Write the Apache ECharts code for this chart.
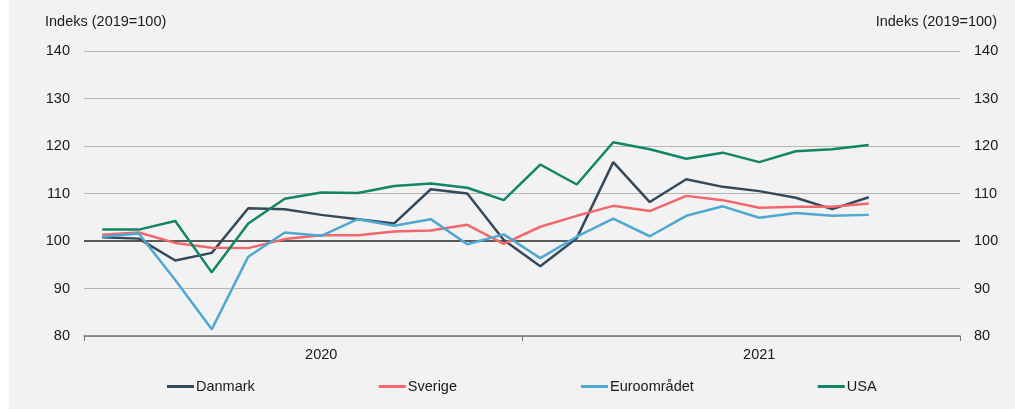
<!DOCTYPE html>
<html lang="da">
<head>
    <meta charset="utf-8"/>
    <title>Indeks (2019=100)</title>
    <script src="https://cdn.jsdelivr.net/npm/echarts@6/dist/echarts.min.js"></script>
    <style type="text/css">
        html, body { margin: 0; height: 100%; background: #ffffff; }
        #main { position: absolute; left: 9px; top: 0; width: 1006px; height: 409px; background: #f2f2f2; }
    </style>
</head>
<body>
<div id="main"></div>
<script>
    // months jan 2020 - dec 2021
    var months = [];
    for (var y = 2020; y <= 2021; y++) {
        for (var m = 1; m <= 12; m++) {
            months.push(y + '-' + (m < 10 ? '0' + m : m));
        }
    }

    var danmark = [100.8, 100.5, 95.9, 97.5, 106.9, 106.7, 105.5, 104.6, 103.7, 110.9, 110.0, 100.2,
                   94.7, 100.6, 116.6, 108.2, 113.0, 111.4, 110.5, 109.1, 106.7, 109.2];
    var sverige = [101.3, 101.8, 99.6, 98.6, 98.5, 100.4, 101.2, 101.2, 102.0, 102.2, 103.4, 99.4,
                   103.0, 105.3, 107.4, 106.3, 109.5, 108.6, 107.0, 107.2, 107.2, 107.9];
    var euro = [100.9, 101.6, 91.8, 81.4, 96.7, 101.8, 101.1, 104.6, 103.2, 104.6, 99.3, 101.4,
                96.4, 100.9, 104.7, 101.0, 105.3, 107.3, 104.9, 105.9, 105.3, 105.5];
    var usa = [102.4, 102.4, 104.2, 93.4, 103.7, 108.9, 110.2, 110.1, 111.6, 112.1, 111.2, 108.6,
               116.1, 111.9, 120.8, 119.3, 117.3, 118.6, 116.6, 118.9, 119.3, 120.2];

    var names = ['Danmark', 'Sverige', 'Euroområdet', 'USA'];
    var colors = ['#34495a', '#f2676c', '#4fa8d1', '#118566'];
    var baseline = 100;

    var font = 'Arial, "Liberation Sans", sans-serif';
    var fs = 14.5;

    var yAxisBase = {
        type: 'value',
        min: 80,
        max: 140,
        interval: 10,
        axisLine: { show: false },
        axisTick: { show: false },
        axisLabel: { color: '#1a1a1a', fontSize: fs, fontFamily: font, margin: 14 },
        splitLine: { lineStyle: { color: '#b5b5b5', width: 1 } }
    };

    function line(name, data, color, mark) {
        var s = {
            name: name,
            type: 'line',
            data: data,
            symbol: 'none',
            lineStyle: { color: color, width: 2.5 },
            itemStyle: { color: color },
            z: 3
        };
        if (mark) {
            s.markLine = {
                silent: true,
                symbol: 'none',
                label: { show: false },
                lineStyle: { color: '#595959', width: 2, type: 'solid' },
                data: [{ yAxis: baseline }],
                z: 1
            };
        }
        return s;
    }

    var myChart = echarts.init(document.getElementById('main'));

    var option = {
        animation: false,
        textStyle: { fontFamily: font },
        grid: { left: 75, right: 55, top: 51, bottom: 73 },
        graphic: [
            { type: 'text', left: 36, top: 14, style: { text: 'Indeks (2019=100)', fontSize: fs, fontFamily: font, fill: '#1a1a1a' } },
            { type: 'text', right: 18, top: 14, style: { text: 'Indeks (2019=100)', fontSize: fs, fontFamily: font, fill: '#1a1a1a' } }
        ],
        legend: {
            data: names,
            icon: 'rect',
            left: 153,
            top: 374,
            itemGap: 124,
            itemWidth: 27,
            itemHeight: 3,
            textStyle: { color: '#1a1a1a', fontSize: fs, fontFamily: font, padding: [0, 0, 0, -3] }
        },
        xAxis: {
            type: 'category',
            data: months,
            boundaryGap: true,
            axisLine: { lineStyle: { color: '#767676', width: 1.5 } },
            axisTick: { show: true, interval: 11, length: 5, lineStyle: { color: '#767676' } },
            axisLabel: {
                color: '#1a1a1a',
                fontSize: fs,
                fontFamily: font,
                margin: 11,
                interval: function (i) { return i === 6 || i === 18; },
                formatter: function (v) { return v.slice(0, 4); }
            },
            splitLine: { show: false }
        },
        yAxis: [
            Object.assign({ position: 'left' }, yAxisBase),
            Object.assign({ position: 'right' }, yAxisBase, { splitLine: { show: false } })
        ],
        series: [
            line(names[0], danmark, colors[0], true),
            line(names[1], sverige, colors[1]),
            line(names[2], euro, colors[2]),
            line(names[3], usa, colors[3])
        ]
    };

    myChart.setOption(option);
</script>
</body>
</html>
